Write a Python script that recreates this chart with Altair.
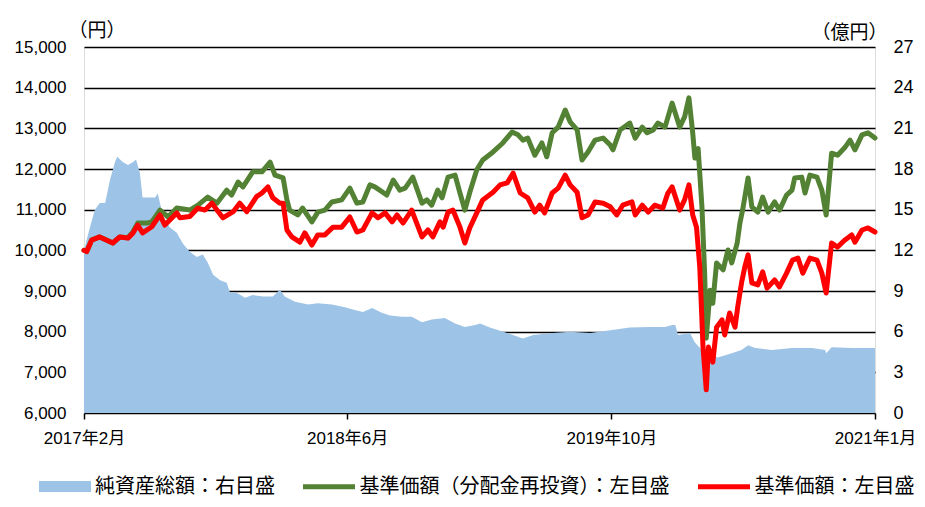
import altair as alt
import pandas as pd

# ---------------- data ----------------
SER_ASSET = "純資産総額：右目盛"
SER_GREEN = "基準価額（分配金再投資）：左目盛"
SER_RED = "基準価額：左目盛"

red_dates = [
    "2017-02-01", "2017-02-06", "2017-02-15", "2017-03-02", "2017-03-13", "2017-03-26",
    "2017-04-08", "2017-04-23", "2017-05-02", "2017-05-11", "2017-05-20", "2017-06-06",
    "2017-06-21", "2017-06-30", "2017-07-22", "2017-07-28", "2017-08-15", "2017-08-30",
    "2017-09-12", "2017-09-25", "2017-10-04", "2017-10-15", "2017-11-03", "2017-11-15",
    "2017-11-28", "2017-12-16", "2017-12-26", "2018-01-06", "2018-01-15", "2018-01-28",
    "2018-02-03", "2018-02-10", "2018-02-19", "2018-03-06", "2018-03-15", "2018-03-28",
    "2018-04-08", "2018-04-21", "2018-05-06", "2018-05-22", "2018-06-06", "2018-06-19",
    "2018-06-30", "2018-07-17", "2018-07-28", "2018-08-10", "2018-08-23", "2018-09-01",
    "2018-09-12", "2018-09-28", "2018-10-17", "2018-10-28", "2018-11-06", "2018-11-19",
    "2018-11-25", "2018-12-04", "2018-12-13", "2018-12-26", "2019-01-04", "2019-01-13",
    "2019-01-26", "2019-02-06", "2019-02-25", "2019-03-10", "2019-03-23", "2019-04-03",
    "2019-04-16", "2019-04-30", "2019-05-13", "2019-05-22", "2019-05-31", "2019-06-14",
    "2019-06-25", "2019-07-08", "2019-07-17", "2019-07-30", "2019-08-08", "2019-08-19",
    "2019-09-01", "2019-09-16", "2019-09-29", "2019-10-11", "2019-10-22", "2019-11-08",
    "2019-11-14", "2019-11-27", "2019-12-08", "2019-12-20", "2020-01-04", "2020-01-13",
    "2020-01-21", "2020-02-04", "2020-02-13", "2020-02-21", "2020-02-28", "2020-03-06",
    "2020-03-12", "2020-03-18", "2020-03-24", "2020-03-28", "2020-04-05", "2020-04-12",
    "2020-04-22", "2020-04-27", "2020-05-06", "2020-05-16", "2020-05-21", "2020-05-28",
    "2020-06-03", "2020-06-09", "2020-06-16", "2020-06-27", "2020-07-06", "2020-07-14",
    "2020-07-28", "2020-08-06", "2020-08-19", "2020-08-30", "2020-09-09", "2020-09-18",
    "2020-10-01", "2020-10-14", "2020-10-23", "2020-10-31", "2020-11-10", "2020-11-21",
    "2020-12-04", "2020-12-17", "2020-12-23", "2021-01-05", "2021-01-16", "2021-01-29",
]
red_vals = [
    10000, 9970, 10250, 10330, 10260, 10180,
    10330, 10300, 10420, 10620, 10430, 10580,
    10870, 10620, 10920, 10800, 10830, 11040,
    10990, 11160, 10990, 10800, 10950, 11160,
    10950, 11320, 11410, 11560, 11290, 11160,
    11160, 10500, 10330, 10200, 10430, 10130,
    10380, 10380, 10570, 10570, 10820, 10450,
    10500, 10920, 10800, 10920, 10700, 10870,
    10670, 10990, 10330, 10500, 10330, 10700,
    10570, 10940, 10990, 10570, 10180, 10550,
    10920, 11240, 11430, 11610, 11660, 11900,
    11410, 11290, 10940, 11110, 10920, 11410,
    11530, 11850, 11610, 11430, 10800, 10870,
    11190, 11160, 11070, 10870, 11110, 11190,
    10870, 11110, 10940, 11110, 11040, 11400,
    11560, 10990, 11240, 11610, 10870, 10570,
    9590, 7620, 6570, 7620, 7250, 8110,
    8290, 7920, 8460, 8110, 8610, 9200,
    9590, 9890, 9200, 9150, 9470, 9070,
    9270, 9100, 9440, 9760, 9810, 9440,
    9810, 9760, 9440, 8950, 10180, 10080,
    10250, 10380, 10200, 10500, 10550, 10450,
]

green_dates = [
    "2017-02-01", "2017-02-06", "2017-02-15", "2017-03-02", "2017-03-13", "2017-03-26",
    "2017-04-08", "2017-04-23", "2017-05-02", "2017-05-11", "2017-05-28", "2017-06-06",
    "2017-06-21", "2017-07-06", "2017-07-22", "2017-08-15", "2017-08-30", "2017-09-17",
    "2017-10-04", "2017-10-22", "2017-10-31", "2017-11-12", "2017-11-21", "2017-12-09",
    "2017-12-26", "2018-01-10", "2018-01-19", "2018-02-03", "2018-02-10", "2018-02-15",
    "2018-03-02", "2018-03-11", "2018-03-28", "2018-04-08", "2018-04-21", "2018-05-04",
    "2018-05-22", "2018-06-06", "2018-06-19", "2018-06-30", "2018-07-13", "2018-07-22",
    "2018-07-31", "2018-08-13", "2018-08-25", "2018-09-06", "2018-09-16", "2018-09-30",
    "2018-10-17", "2018-10-26", "2018-11-04", "2018-11-15", "2018-11-23", "2018-12-04",
    "2018-12-17", "2018-12-26", "2019-01-04", "2019-01-13", "2019-01-26", "2019-02-06",
    "2019-02-25", "2019-03-15", "2019-04-01", "2019-04-12", "2019-04-21", "2019-04-30",
    "2019-05-13", "2019-05-26", "2019-06-04", "2019-06-14", "2019-06-25", "2019-07-08",
    "2019-07-17", "2019-07-30", "2019-08-08", "2019-08-19", "2019-09-01", "2019-09-16",
    "2019-09-29", "2019-10-04", "2019-10-17", "2019-11-04", "2019-11-14", "2019-11-27",
    "2019-12-06", "2019-12-17", "2019-12-26", "2020-01-08", "2020-01-21", "2020-02-04",
    "2020-02-13", "2020-02-21", "2020-02-28", "2020-03-03", "2020-03-09", "2020-03-16",
    "2020-03-21", "2020-03-24", "2020-03-31", "2020-04-05", "2020-04-12", "2020-04-24",
    "2020-05-03", "2020-05-10", "2020-05-20", "2020-05-25", "2020-05-30", "2020-06-09",
    "2020-06-16", "2020-06-27", "2020-07-06", "2020-07-16", "2020-07-28", "2020-08-06",
    "2020-08-19", "2020-08-29", "2020-09-03", "2020-09-16", "2020-09-22", "2020-10-01",
    "2020-10-14", "2020-10-23", "2020-10-31", "2020-11-10", "2020-11-21", "2020-12-04",
    "2020-12-14", "2020-12-23", "2021-01-05", "2021-01-16", "2021-01-29",
]
green_vals = [
    10000, 9970, 10250, 10330, 10260, 10180,
    10330, 10310, 10450, 10670, 10670, 10700,
    10990, 10820, 11040, 10990, 11110, 11310,
    11160, 11480, 11360, 11680, 11560, 11930,
    11930, 12170, 11850, 11780, 11240, 10990,
    10870, 11040, 10700, 10940, 10990, 11190,
    11240, 11530, 11160, 11190, 11610, 11560,
    11480, 11360, 11730, 11480, 11530, 11800,
    11160, 11240, 11110, 11480, 11290, 11800,
    11850, 11410, 10990, 11420, 11980, 12220,
    12420, 12640, 12910, 12840, 12710, 12760,
    12340, 12640, 12300, 12890, 13030, 13450,
    13160, 12960, 12220, 12420, 12710, 12760,
    12590, 12470, 12960, 13130, 12760, 13030,
    12890, 12960, 13130, 13030, 13620, 13030,
    13280, 13750, 12890, 12270, 12500, 11070,
    9440, 7840, 9020, 8700, 9690, 9520,
    10010, 9690, 10180, 10670, 10990, 11780,
    11070, 10940, 11310, 10940, 11190, 10990,
    11360, 11480, 11780, 11800, 11410, 11850,
    11800, 11480, 10870, 12390, 12340, 12520,
    12710, 12470, 12840, 12890, 12760,
]

asset_dates = [
    "2017-02-01", "2017-02-12", "2017-02-21", "2017-03-02", "2017-03-12", "2017-03-21",
    "2017-03-30", "2017-04-03", "2017-04-14", "2017-04-23", "2017-05-02", "2017-05-08",
    "2017-05-15", "2017-05-20", "2017-06-03", "2017-06-12", "2017-06-17", "2017-06-21",
    "2017-06-27", "2017-07-09", "2017-07-22", "2017-08-02", "2017-08-15", "2017-08-28",
    "2017-09-08", "2017-09-17", "2017-09-27", "2017-10-10", "2017-10-22", "2017-10-28",
    "2017-11-10", "2017-11-25", "2017-12-09", "2017-12-28", "2018-01-15", "2018-01-28",
    "2018-02-06", "2018-02-25", "2018-03-21", "2018-04-08", "2018-05-04", "2018-05-28",
    "2018-06-15", "2018-06-30", "2018-07-17", "2018-08-04", "2018-08-19", "2018-09-10",
    "2018-09-28", "2018-10-17", "2018-11-04", "2018-11-28", "2018-12-17", "2019-01-04",
    "2019-01-23", "2019-02-01", "2019-02-19", "2019-03-23", "2019-04-21", "2019-05-10",
    "2019-06-15", "2019-07-17", "2019-08-23", "2019-09-29", "2019-11-04", "2019-12-11",
    "2020-01-08", "2020-01-21", "2020-01-27", "2020-02-01", "2020-02-23", "2020-03-03",
    "2020-03-16", "2020-03-27", "2020-04-14", "2020-05-10", "2020-05-28", "2020-06-09",
    "2020-06-22", "2020-07-23", "2020-08-29", "2020-10-05", "2020-10-29", "2020-10-31",
    "2020-11-10", "2020-12-17", "2021-01-29",
]
asset_vals = [
    12.0, 13.7, 15.0, 15.5, 15.5, 17.2,
    18.5, 18.9, 18.5, 18.3, 18.5, 18.7,
    17.7, 15.9, 15.9, 15.9, 16.2, 15.5,
    14.5, 13.7, 13.3, 12.5, 11.9, 11.5,
    11.7, 11.1, 10.2, 9.8, 9.6, 8.9,
    8.85, 8.5, 8.7, 8.6, 8.6, 9.1,
    8.6, 8.2, 8.0, 8.1, 8.0, 7.8,
    7.6, 7.45, 7.75, 7.4, 7.2, 7.1,
    7.1, 6.7, 6.9, 7.0, 6.6, 6.35,
    6.5, 6.6, 6.3, 5.9, 5.5, 5.75,
    5.9, 6.0, 5.9, 6.1, 6.3, 6.35,
    6.35, 6.5, 6.5, 5.75, 5.9, 5.2,
    4.65, 4.4, 4.1, 4.4, 4.65, 5.0,
    4.8, 4.65, 4.8, 4.8, 4.65, 4.4,
    4.85, 4.8, 4.8,
]

left_ticks = [6000, 7000, 8000, 9000, 10000, 11000, 12000, 13000, 14000, 15000]
right_ticks = [0, 3, 6, 9, 12, 15, 18, 21, 24, 27]

# ---------------- tables ----------------
df_area = pd.DataFrame({"date": asset_dates, "value": asset_vals, "series": SER_ASSET})
df_lines = pd.concat([
    pd.DataFrame({"date": green_dates, "value": green_vals, "series": SER_GREEN}),
    pd.DataFrame({"date": red_dates, "value": red_vals, "series": SER_RED}),
], ignore_index=True)

NUM_FONT = "Liberation Sans, Arial, Noto Sans CJK JP"
JP_FONT = "Noto Sans CJK JP"

x_start = alt.DateTime(year=2017, month=2, date=1, utc=True)
x_end = alt.DateTime(year=2021, month=1, date=29, utc=True)
x_ticks = [
    x_start,
    alt.DateTime(year=2018, month=6, date=1, utc=True),
    alt.DateTime(year=2019, month=10, date=1, utc=True),
    x_end,
]
x_scale = alt.Scale(type="utc", domain=[x_start, x_end])
x_axis = alt.Axis(
    values=x_ticks, labelExpr="utcFormat(datum.value, '%Y年%-m月')",
    title=None, grid=False, domain=False, ticks=True, tickSize=6, tickWidth=1.5,
    tickColor="black", labelFont=NUM_FONT, labelFontSize=17, labelColor="black",
    labelPadding=11, labelFlush=False, labelOverlap=False,
)

area = alt.Chart(df_area).mark_area(opacity=1, interpolate="linear").encode(
    x=alt.X("date:T", scale=x_scale, axis=x_axis),
    y=alt.Y(
        "value:Q",
        scale=alt.Scale(domain=[0, 27], nice=False, zero=True),
        axis=alt.Axis(
            orient="right", values=right_ticks, format="d", grid=False, ticks=False,
            domain=False, labelFont=NUM_FONT, labelFontSize=18, labelColor="black",
            labelPadding=18,
            title="（億円）", titleAngle=0, titleAlign="right", titleBaseline="middle",
            titleX=12, titleY=-15, titleFont=JP_FONT, titleFontSize=19,
            titleFontWeight="normal", titleColor="black",
        ),
    ),
    fill=alt.Fill(
        "series:N",
        scale=alt.Scale(domain=[SER_ASSET], range=["#9DC3E6"]),
        legend=alt.Legend(
            orient="none", legendX=-45, legendY=413.5, title=None, padding=0,
            symbolType="M-1,-0.21H1V0.21H-1Z", symbolSize=2704, symbolStrokeWidth=0,
            symbolOpacity=1, labelFont=JP_FONT, labelFontSize=20, labelColor="black",
            labelLimit=600, labelOffset=4,
        ),
    ),
)

lines = alt.Chart(df_lines).mark_line(strokeWidth=5, strokeJoin="round", strokeCap="round").encode(
    x=alt.X("date:T", scale=x_scale, axis=x_axis),
    y=alt.Y(
        "value:Q",
        scale=alt.Scale(domain=[6000, 15000], nice=False, zero=False),
        axis=alt.Axis(
            orient="left", values=left_ticks, format=",.0f", grid=True, gridColor="black",
            gridWidth=1.5, gridOpacity=1, ticks=False, domain=False,
            labelFont=NUM_FONT, labelFontSize=17, labelColor="black", labelPadding=18,
            title="（円）", titleAngle=0, titleAlign="left", titleBaseline="middle",
            titleX=-16, titleY=-17, titleFont=JP_FONT, titleFontSize=19,
            titleFontWeight="normal", titleColor="black",
        ),
    ),
    stroke=alt.Stroke(
        "series:N",
        scale=alt.Scale(domain=[SER_GREEN, SER_RED], range=["#548235", "#FF0000"]),
        legend=alt.Legend(
            orient="none", legendX=216.5, legendY=411, direction="horizontal",
            title=None, padding=0, symbolType="stroke", symbolSize=2704,
            symbolStrokeWidth=5, labelFont=JP_FONT, labelFontSize=20,
            labelColor="black", labelLimit=600, labelOffset=2, columnPadding=18,
        ),
    ),
)

chart = alt.layer(area, lines).resolve_scale(
    y="independent", fill="independent", stroke="independent"
).properties(
    width=791, height=366,
    autosize=alt.AutoSizeParams(type="none"),
    padding={"left": 76, "top": 39, "right": 42, "bottom": 85},
).configure_view(
    stroke="black", strokeWidth=1.5
).configure(background="white")

chart.save("out.html", embed_options={"renderer": "svg", "actions": False})
